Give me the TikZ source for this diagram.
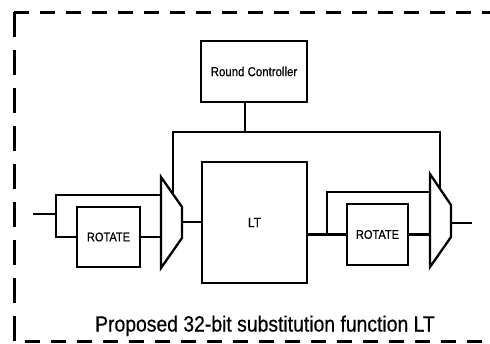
\documentclass[tikz,border=0pt]{standalone}
\usepackage{fontspec}
\setmainfont{Liberation Sans}[FakeStretch=0.88,FakeBold=0.6]
\begin{document}
\begin{tikzpicture}[x=1pt,y=-1pt,
  blk/.style={draw,line width=2.4pt,inner sep=0pt,outer sep=0pt,fill=white},
  wire/.style={line width=2.3pt},
  muxshape/.style={line width=2.3pt,line join=miter,fill=white},
  border/.style={line width=3pt}]
\useasboundingbox (0,0) rectangle (490,343);
\fill[white] (0,0) rectangle (490,343);
% dashed frame
\draw[border,dash pattern=on 15pt off 11pt] (14,12) -- (490,12);
\draw[border,dash pattern=on 25pt off 13pt] (14,12) -- (14,343);
\draw[border,dash pattern=on 15pt off 11pt] (25,341.5) -- (490,341.5);
% blocks
\node[blk,minimum width=106pt,minimum height=61pt,font=\fontsize{13}{15}\selectfont] (rc) at (254,71.5) {Round Controller};
\node[blk,minimum width=105pt,minimum height=121pt,font=\fontsize{13.5}{15}\selectfont] (lt) at (254.5,222.5) {LT};
\node[blk,minimum width=63pt,minimum height=60pt,font=\fontsize{12.5}{14}\selectfont] (rot1) at (108.5,237) {ROTATE};
\node[blk,minimum width=61pt,minimum height=61pt,font=\fontsize{12.5}{14}\selectfont] (rot2) at (377.5,234.5) {ROTATE};
% muxes
\coordinate (m1a) at (161,177); \coordinate (m1b) at (182,207);
\coordinate (m1c) at (182,238); \coordinate (m1d) at (161,268);
\coordinate (m1o) at (182,222);
\coordinate (m2a) at (430,174); \coordinate (m2b) at (451,205);
\coordinate (m2c) at (451,237); \coordinate (m2d) at (430,267);
\coordinate (m2o) at (451,223);
\draw[muxshape] (m1a) -- (m1b) -- (m1c) -- (m1d) -- cycle;
\draw[muxshape] (m2a) -- (m2b) -- (m2c) -- (m2d) -- cycle;
% coordinates
\coordinate (in) at (33,214);
\coordinate (j1) at (56,214);
\coordinate (j1t) at (56,195);
\coordinate (m1i1) at (161,195);
\coordinate (m1i2) at (161,237);
\coordinate (j2) at (327,234.5);
\coordinate (j2t) at (327,192);
\coordinate (m2i1) at (430,192);
\coordinate (m2i2) at (430,234.5);
\coordinate (out) at (472,223);
\coordinate (c1) at (245,132);
\coordinate (cl) at (173,132);
\coordinate (cl2) at (173,194);
\coordinate (cr) at (440,132);
\coordinate (cr2) at (440,189);
% wires
\draw[wire] (in) -- (j1);
\draw[wire,line join=miter] (m1i1) -- (j1t) -- (j1) |- (rot1.west);
\draw[wire] (rot1.east) -- (m1i2);
\draw[wire] (m1o) -- (lt.west |- m1o);
\draw[wire] (lt.east |- rot2.west) -- (rot2.west);
\draw[wire,line join=miter] (j2) -- (j2t) -- (m2i1);
\draw[wire] (rot2.east) -- (m2i2);
\draw[wire] (m2o) -- (out);
\draw[wire] (rc.south -| c1) -- (c1);
\draw[wire,line join=miter] (cl2) -- (cl) -- (cr) -- (cr2);
% title
\node[anchor=base,inner sep=0pt,font=\fontsize{22}{24}\selectfont] (title) at (265,331.5) {Proposed 32-bit substitution function LT};
\end{tikzpicture}
\end{document}
